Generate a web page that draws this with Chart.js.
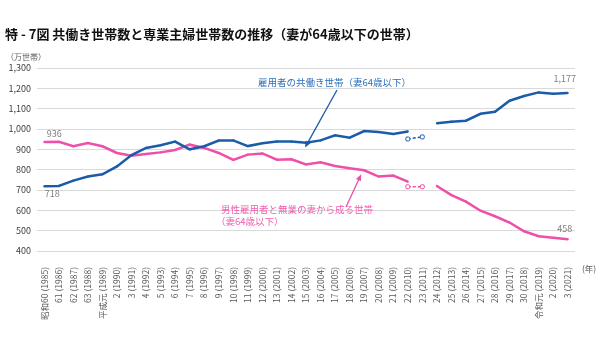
<!DOCTYPE html>
<html lang="ja">
<head>
<meta charset="utf-8">
<script src="https://cdn.jsdelivr.net/npm/chart.js@4"></script>
<style>
  body { margin: 0; background: #fff; font-family: "Noto Sans CJK JP", sans-serif; }
  #wrap { position: relative; width: 600px; height: 350px; }
  #chart { position: absolute; left: 0; top: 0; }
  .title { position: absolute; left: 5px; top: 24px; font-size: 13px; font-weight: bold; color: #111; white-space: nowrap; }
  .unit { position: absolute; left: 6px; top: 51px; font-size: 8px; color: #595959; }
  .nen { position: absolute; left: 582px; top: 262px; font-size: 8.5px; color: #595959; }
</style>
</head>
<body>
<div id="wrap">
  <canvas id="chart" width="600" height="350"></canvas>
  <div class="title">特 - 7図 共働き世帯数と専業主婦世帯数の推移（妻が64歳以下の世帯）</div>
  <div class="unit">（万世帯）</div>
  <div class="nen">(年)</div>
</div>
<script>
// 年ラベル
const years = [
  '昭和60 (1985)', '61 (1986)', '62 (1987)', '63 (1988)', '平成元 (1989)',
  '2 (1990)', '3 (1991)', '4 (1992)', '5 (1993)', '6 (1994)', '7 (1995)',
  '8 (1996)', '9 (1997)', '10 (1998)', '11 (1999)', '12 (2000)', '13 (2001)',
  '14 (2002)', '15 (2003)', '16 (2004)', '17 (2005)', '18 (2006)', '19 (2007)',
  '20 (2008)', '21 (2009)', '22 (2010)', '23 (2011)', '24 (2012)', '25 (2013)',
  '26 (2014)', '27 (2015)', '28 (2016)', '29 (2017)', '30 (2018)',
  '令和元 (2019)', '2 (2020)', '3 (2021)'
];

// 雇用者の共働き世帯（妻64歳以下）
const dual = [718, 720, 746, 766, 777, 816, 872, 907, 920, 938, 900, 915, 943, 944, 916, 930, 938, 938, 933, 944,
  969, 957, 990, 985, 975, 988, null, 1028, 1036, 1041, 1075, 1085, 1139, 1162, 1180, 1173, 1177];
// 岩手・宮城・福島を除く値（2010, 2011）
const dualAlt = [null, null, null, null, null, null, null, null, null, null, null, null, null, null, null, null, null, null, null, null,
  null, null, null, null, null, 951, 961, null, null, null, null, null, null, null, null, null, null];

// 男性雇用者と無業の妻から成る世帯（妻64歳以下）
const single = [936, 937, 915, 931, 915, 882, 869, 877, 885, 897, 923, 907, 882, 848, 874, 880, 849, 851, 826, 836,
  818, 807, 797, 766, 771, 741, null, 720, 675, 643, 598, 571, 540, 497, 473, 465, 458];
const singleAlt = [null, null, null, null, null, null, null, null, null, null, null, null, null, null, null, null, null, null, null, null,
  null, null, null, null, null, 716, 716, null, null, null, null, null, null, null, null, null, null];

const yTicks = [400, 500, 600, 700, 800, 900, 1000, 1100, 1200, 1300];

const BLUE = '#1a5ca8';
const PINK = '#ee4fa8';
const FONT = '"Noto Sans CJK JP", sans-serif';

// 注記と矢印を描くプラグイン
const notes = {
  id: 'notes',
  afterDatasetsDraw(chart) {
    const { ctx, scales: { x, y } } = chart;
    const last = years.length - 1;
    ctx.save();
    ctx.font = '9px ' + FONT;
    ctx.fillStyle = '#7f7f7f';
    ctx.textAlign = 'center';
    ctx.fillText('936', x.getPixelForValue(0) + 10, y.getPixelForValue(single[0]) - 5);
    ctx.fillText('718', x.getPixelForValue(0) + 8, y.getPixelForValue(dual[0]) + 11);
    ctx.fillText('1,177', x.getPixelForValue(last) - 3, y.getPixelForValue(dual[last]) - 11);
    ctx.fillText('458', x.getPixelForValue(last) - 3, y.getPixelForValue(single[last]) - 7);

    // 系列名
    ctx.font = '9.5px ' + FONT;
    ctx.textAlign = 'left';
    ctx.fillStyle = '#2e6fb8';
    ctx.fillText('雇用者の共働き世帯（妻64歳以下）', 258, 86);
    ctx.fillStyle = '#f25cae';
    ctx.fillText('男性雇用者と無業の妻から成る世帯', 221, 213);
    ctx.fillText('（妻64歳以下）', 216, 225);

    arrow(ctx, 337, 90, x.getPixelForValue(18) - 1, y.getPixelForValue(dual[18]) + 5, BLUE);
    arrow(ctx, 346, 207, x.getPixelForValue(22) - 3, y.getPixelForValue(single[22]) + 4, PINK);
    ctx.restore();
  }
};

function arrow(ctx, x1, y1, x2, y2, color) {
  const a = Math.atan2(y2 - y1, x2 - x1);
  ctx.strokeStyle = color;
  ctx.fillStyle = color;
  ctx.lineWidth = 1.3;
  ctx.beginPath();
  ctx.moveTo(x1, y1);
  ctx.lineTo(x2 - 4 * Math.cos(a), y2 - 4 * Math.sin(a));
  ctx.stroke();
  ctx.beginPath();
  ctx.moveTo(x2, y2);
  ctx.lineTo(x2 - 7 * Math.cos(a - 0.4), y2 - 7 * Math.sin(a - 0.4));
  ctx.lineTo(x2 - 7 * Math.cos(a + 0.4), y2 - 7 * Math.sin(a + 0.4));
  ctx.closePath();
  ctx.fill();
}

function mainLine(data, color) {
  return {
    data: data,
    borderColor: color,
    backgroundColor: color,
    borderWidth: 2.5,
    pointRadius: 1.1,
    pointBorderWidth: 0,
    pointHoverRadius: 1.1,
    spanGaps: false,
    tension: 0
  };
}

function altLine(data, color) {
  return {
    data: data,
    borderColor: color,
    backgroundColor: '#fff',
    borderWidth: 1.5,
    borderDash: [3, 2],
    pointStyle: 'rectRounded',
    pointRadius: 2.3,
    pointBorderWidth: 1,
    spanGaps: false,
    tension: 0
  };
}

new Chart(document.getElementById('chart'), {
  type: 'line',
  data: {
    labels: years,
    datasets: [
      mainLine(dual, BLUE),
      altLine(dualAlt, BLUE),
      mainLine(single, PINK),
      altLine(singleAlt, PINK)
    ]
  },
  options: {
    responsive: false,
    animation: false,
    events: [],
    layout: { padding: { top: 68, right: 25, left: 0, bottom: 0 } },
    plugins: {
      legend: { display: false },
      tooltip: { enabled: false },
      title: { display: false }
    },
    scales: {
      x: {
        offset: true,
        grid: { display: false },
        border: { display: false },
        afterFit(scale) { scale.height = 99; },
        ticks: {
          autoSkip: false,
          minRotation: 90,
          maxRotation: 90,
          padding: 8,
          color: '#595959',
          font: { family: FONT, size: 8.5 }
        }
      },
      y: {
        min: 400,
        max: 1300,
        afterFit(scale) { scale.width = 37; },
        afterBuildTicks(scale) { scale.ticks = yTicks.map(v => ({ value: v })); },
        grid: { color: '#d9d9d9', lineWidth: 1, drawTicks: false },
        border: { display: false },
        ticks: {
          padding: 6,
          color: '#404040',
          font: { family: FONT, size: 9 },
          callback: v => v.toLocaleString('en-US')
        }
      }
    }
  },
  plugins: [notes]
});
</script>
</body>
</html>
